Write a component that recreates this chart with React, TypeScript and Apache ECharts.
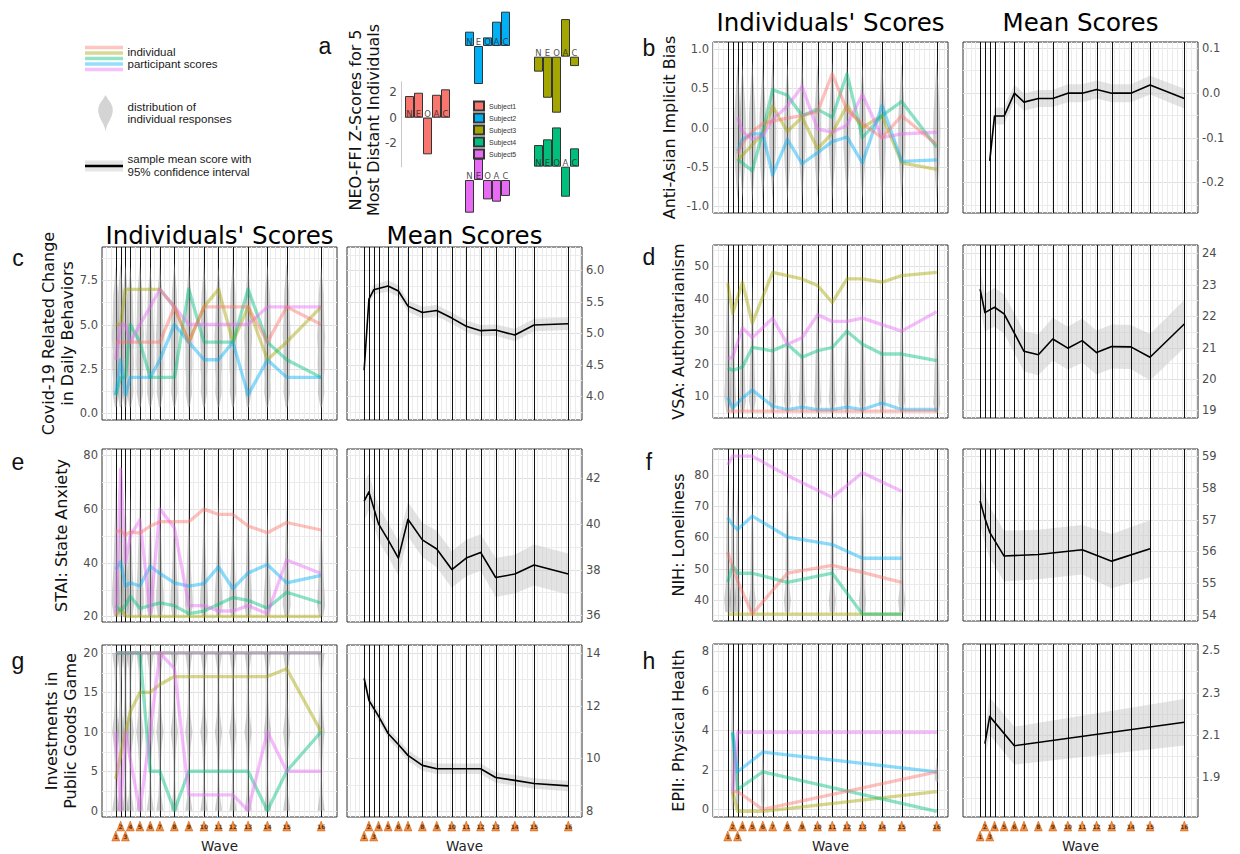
import React, { useEffect, useRef } from "react";
import * as echarts from "echarts";

const UI_FONT = "'DejaVu Sans', Verdana, sans-serif";
const TXT_FONT = "'Liberation Sans', Arial, Helvetica, sans-serif";

// ---------------- waves ----------------
const waveNumbers = [1, 2, 3, 4, 5, 6, 7, 8, 9, 10, 11, 12, 13, 14, 15, 16];
const waveDays = [0, 7, 14, 21, 35, 50, 64, 85, 106, 128, 149, 170, 192, 220, 248, 298];
const waveMarkerRow = [1, 0, 1, 0, 0, 0, 0, 0, 0, 0, 0, 0, 0, 0, 0, 0];

// red, olive, green, blue, pink
const lineColors = ["#F8766D", "#A3A500", "#00BF7D", "#00B0F6", "#E76BF3"];
// drawing order of the individual lines (red ends on top)
const lineDrawOrder = [1, 2, 3, 4, 0];

// ---------------- panel a ----------------
const neoTraits = ["N", "E", "O", "A", "C"];
const neoSubjectNames = ["Subject1", "Subject2", "Subject3", "Subject4", "Subject5"];
const neoSubjectColors = ["#F8766D", "#00B0F6", "#A3A500", "#00BF7D", "#E76BF3"];
const neoSubject1 = [1.71, 1.97, -2.89, 1.81, 2.24];
const neoSubject2 = [1.13, -3.0, 0.68, 1.92, 2.71];
const neoSubject3 = [-1.18, -3.24, -4.42, 2.97, -0.74];
const neoSubject4 = [1.71, 2.16, 3.1, -2.37, 1.45];
const neoSubject5 = [-2.58, 1.68, -1.53, -1.71, -1.26];
const neoTicks = [-2, 0, 2];

// ---------------- panel b : Anti-Asian Implicit Bias ----------------
const biasWaves = [3, 4, 5, 6, 7, 8, 9, 10, 11, 12, 13, 14, 15, 16];
const biasRed = [-0.33, -0.2, -0.05, 0.05, 0.08, 0.12, 0.15, 0.2, 0.68, 0.22, 0.05, -0.13, 0.15, -0.22];
const biasOlive = [-0.42, -0.35, -0.22, -0.08, 0.27, -0.05, 0.13, -0.27, -0.07, 0.28, 0.0, 0.15, -0.45, -0.53];
const biasGreen = [-0.41, -0.45, -0.55, -0.05, 0.48, 0.41, 0.15, 0.23, 0.13, 0.68, -0.13, 0.15, 0.33, -0.25];
const biasBlue = [-0.3, -0.15, -0.08, -0.08, -0.6, -0.15, -0.46, -0.32, -0.18, -0.12, -0.45, 0.28, -0.43, -0.41];
const biasPink = [0.13, -0.05, -0.15, -0.1, 0.1, 0.27, 0.52, -0.02, -0.06, 0.03, 0.42, -0.13, -0.08, -0.06];
const biasMean = [-0.152, -0.052, -0.052, -0.001, -0.021, -0.013, -0.013, -0.001, -0.001, 0.007, -0.001, -0.001, 0.017, -0.013];
const biasCI = [0.02, 0.019, 0.019, 0.019, 0.019, 0.019, 0.019, 0.02, 0.02, 0.02, 0.02, 0.02, 0.021, 0.022];
const biasViolinLo = [-0.93, -0.9, -0.95, -0.92, -0.9, -0.95, -0.92, -0.9, -0.93, -0.9, -0.92, -0.95, -0.9, -0.92];
const biasViolinHi = [0.82, 0.8, 0.85, 0.8, 0.85, 0.82, 0.85, 0.8, 0.85, 0.82, 0.8, 0.85, 0.82, 0.85];

// ---------------- panel c : Covid-19 related change ----------------
const covidWaves = [1, 2, 3, 4, 5, 6, 7, 8, 9, 10, 11, 12, 13, 14, 15, 16];
const covidRed = [4, 4, 4, 4, 4, 4, 4, 6, 4, 6, 6, 6, 6, 4, 6, 5];
const covidOlive = [5, 5, 7, 7, 7, 7, 7, 6, 4, 6, 7, 4, 6, 3, 4, 6];
const covidGreen = [1, 2, 2, 5, 4, 2, 2, 2, 7, 4, 4, 4, 7, 4, 3, 2];
const covidBlue = [1, 3, 1, 2, 2, 2, 3, 5, 4, 3, 3, 4, 1, 3, 2, 2];
const covidPink = [3, 5, 5, 4, 5, 6, 7, 6, 5, 5, 5, 5, 5, 6, 6, 6];
const covidMean = [4.41, 5.54, 5.69, 5.71, 5.75, 5.67, 5.43, 5.33, 5.36, 5.24, 5.11, 5.04, 5.05, 4.97, 5.13, 5.15];
const covidCI = [0.07, 0.08, 0.08, 0.08, 0.09, 0.09, 0.09, 0.09, 0.09, 0.09, 0.09, 0.09, 0.09, 0.1, 0.1, 0.1];
const covidViolinLo = [0.3, 0.3, 0.3, 0.3, 0.3, 0.3, 0.3, 0.3, 0.3, 0.3, 0.3, 0.3, 0.3, 0.3, 0.3, 0.3];
const covidViolinHi = [8.3, 8.5, 8.4, 8.3, 8.5, 8.3, 8.4, 8.5, 8.3, 8.4, 8.3, 8.5, 8.3, 8.4, 8.5, 8.3];

// ---------------- panel d : VSA Authoritarianism ----------------
const vsaWaves = [1, 2, 4, 5, 7, 8, 9, 10, 11, 12, 13, 14, 15, 16];
const vsaRed = [5.5, 5.5, 5.5, 5.5, 5.5, 5.5, 5.5, 5.5, 5.5, 5.5, 5.5, 5.5, 5.5, 5.5];
const vsaOlive = [44.7, 35.5, 45, 32.5, 48, 47, 46, 44, 38.8, 46, 46, 45, 47, 48];
const vsaGreen = [18.7, 18, 19, 25, 24, 26, 22, 24, 25, 30, 26, 23, 23, 21];
const vsaBlue = [9.7, 6.4, 9.5, 12, 7, 6, 6.7, 6, 6, 6.7, 6, 8, 6, 6];
const vsaPink = [21.7, 22, 31, 28, 34, 26, 28, 35, 33, 33, 34, 32, 30, 36];
const vsaMean = [22.86, 22.11, 22.28, 22.07, 20.88, 20.77, 21.27, 20.98, 21.22, 20.84, 21.03, 21.02, 20.69, 21.75];
const vsaCI = [0.6, 0.6, 0.62, 0.62, 0.64, 0.65, 0.68, 0.68, 0.7, 0.7, 0.7, 0.7, 0.74, 0.76];
const vsaViolinLo = [5, 5, 5, 5, 5, 5, 5, 5, 5, 5, 5, 5, 5, 5];
const vsaViolinHi = [54, 44, 42, 45, 42, 42, 40, 42, 42, 44, 40, 40, 42, 35];

// ---------------- panel e : STAI State Anxiety ----------------
const staiWaves = [1, 2, 3, 4, 5, 6, 7, 8, 9, 10, 11, 12, 13, 14, 15, 16];
const staiRed = [51.5, 52, 50.3, 51.5, 51, 53.7, 55.3, 55.3, 55.3, 60, 58, 58, 53.7, 51.2, 55, 52.2];
const staiOlive = [20, 23, 20, 20, 20, 20, 20, 20, 20, 20, 20, 20, 20, 20, 20, 20];
const staiGreen = [24, 22, 24, 27.5, 23, 24, 25, 24, 21, 22, 24.5, 27, 26, 23, 29, 25];
const staiBlue = [37.5, 40.3, 31.3, 32.5, 31.3, 38.7, 36, 32.5, 31.3, 32.2, 38.5, 30.3, 36.2, 39.3, 32.5, 35.3];
const staiPink = [21, 75, 40, 50, 56, 21, 60, 53, 24, 24, 22, 22, 24, 21, 41, 36];
const staiMean = [41.0, 41.4, 40.7, 40.0, 39.3, 38.5, 40.2, 39.3, 38.9, 38.0, 38.5, 38.75, 37.65, 37.8, 38.2, 37.8];
const staiCI = [0.85, 0.8, 0.75, 0.75, 0.75, 0.75, 0.75, 0.75, 0.8, 0.8, 0.8, 0.8, 0.85, 0.85, 0.9, 0.9];
const staiViolinLo = [20, 20, 20, 20, 20, 20, 20, 20, 20, 20, 20, 20, 20, 20, 20, 20];
const staiViolinHi = [70, 76, 68, 66, 68, 64, 66, 66, 62, 64, 66, 62, 64, 60, 62, 60];

// ---------------- panel f : NIH Loneliness ----------------
const nihWaves = [1, 2, 3, 5, 8, 11, 13, 15];
const nihRed = [55.3, 50.4, 46, 35.4, 48.5, 51, 48.8, 45.6];
const nihOlive = [35.4, 35.4, 35.4, 35.4, 35.4, 35.4, 35.4, 35.4];
const nihGreen = [45.6, 51, 48.5, 48.5, 45.6, 48.5, 35.4, 35.4];
const nihBlue = [66.3, 64, 62.5, 66.8, 60.1, 57.7, 53.3, 53.3];
const nihPink = [83.2, 86.1, 86, 86, 79.8, 72.8, 80.7, 74.8];
const nihMean = [57.59, 57.04, 56.6, 55.85, 55.9, 56.05, 55.69, 56.08];
const nihCI = [0.75, 0.78, 0.8, 0.8, 0.78, 0.78, 0.86, 0.9];
const nihViolinLo = [36, 36, 36, 36, 36, 36, 36, 36];
const nihViolinHi = [78, 77, 76, 72, 77, 77, 76, 74];

// ---------------- panel g : Public Goods Game ----------------
const pggWaves = [1, 2, 3, 4, 5, 6, 7, 8, 9, 10, 11, 12, 13, 14, 15, 16];
const pggRed = [20, 20, 20, 20, 20, 20, 20, 20, 20, 20, 20, 20, 20, 20, 20, 20];
const pggOlive = [4, 7, 10, 12.5, 15, 15, 16, 17, 17, 17, 17, 17, 17, 17, 18, 10];
const pggGreen = [20, 20, 20, 20, 20, 5, 5, 0, 5, 5, 5, 5, 5, 0, 5, 10];
const pggBlue = [20, 20, 20, 20, 20, 20, 20, 20, 20, 20, 20, 20, 20, 20, 20, 20];
const pggPink = [10, 0, 10, 6.5, 0, 10, 20, 18, 2, 2, 2, 2, 0, 10, 5, 5];
const pggMean = [13.03, 12.2, 11.9, 11.6, 10.94, 10.52, 10.11, 9.73, 9.6, 9.6, 9.6, 9.6, 9.27, 9.16, 9.04, 8.95];
const pggCI = [0.25, 0.22, 0.2, 0.2, 0.2, 0.2, 0.2, 0.2, 0.2, 0.2, 0.2, 0.2, 0.2, 0.2, 0.2, 0.2];
const pggViolinLo = [0, 0, 0, 0, 0, 0, 0, 0, 0, 0, 0, 0, 0, 0, 0, 0];
const pggViolinHi = [20, 20, 20, 20, 20, 20, 20, 20, 20, 20, 20, 20, 20, 20, 20, 20];

// ---------------- panel h : EPII Physical Health ----------------
const epiiWaves = [2, 3, 6, 16];
const epiiRed = [0.9, 0.9, 0, 1.9];
const epiiOlive = [0.9, -0.1, -0.1, 0.9];
const epiiGreen = [3.9, 1.0, 1.9, -0.1];
const epiiBlue = [3.9, 1.9, 2.9, 1.9];
const epiiPink = [0.9, 3.9, 3.9, 3.9];
const epiiMean = [2.058, 2.187, 2.048, 2.159];
const epiiCI = [0.06, 0.09, 0.09, 0.11];
const epiiViolinLo = [0, 0, 0, 1.4];
const epiiViolinHi = [7.9, 4.1, 3.6, 2.6];

// ---------------- layout ----------------
const IND_LEFT = [102, 713];
const IND_W = 235;
const MEAN_LEFT = [347, 963];
const MEAN_W = 235;
const IND_XRANGE = [[-20, 321], [-21, 314]];
const MEAN_XRANGE = [-25, 318];

const panels: any[] = [
  {
    letter: "b", col: 1, top: 42, height: 171, letterY: 48, titles: true, titleY: 22,
    yTitle: "Anti-Asian Implicit Bias", yTitleX: 669,
    waves: biasWaves, ind: [biasRed, biasOlive, biasGreen, biasBlue, biasPink],
    mean: biasMean, ci: biasCI, vLo: biasViolinLo, vHi: biasViolinHi,
    profile: [0, 0.35, 0.7, 0.95, 1, 0.9, 0.6, 0.3, 0], vWidth: 3.6,
    indRange: [-1.085, 1.085], indTicks: [-1, -0.5, 0, 0.5, 1], indMinor: [-0.75, -0.25, 0.25, 0.75], indDec: 1,
    meanRange: [-0.268, 0.113], meanTicks: [-0.2, -0.1, 0, 0.1], meanMinor: [-0.25, -0.15, -0.05, 0.05], meanDec: 1,
  },
  {
    letter: "c", col: 0, top: 247, height: 173, letterY: 258, titles: true, titleY: 235,
    yTitle: "Covid-19 Related Change\nin Daily Behaviors", yTitleX: 58,
    waves: covidWaves, ind: [covidRed, covidOlive, covidGreen, covidBlue, covidPink],
    mean: covidMean, ci: covidCI, vLo: covidViolinLo, vHi: covidViolinHi,
    profile: [0.2, 0.8, 0.7, 0.9, 0.8, 1, 0.8, 0.7, 0.6, 0.3, 0], vWidth: 4,
    indRange: [-0.42, 9.4], indTicks: [0, 2.5, 5, 7.5], indMinor: [1.25, 3.75, 6.25, 8.75], indDec: 1,
    meanRange: [3.62, 6.37], meanTicks: [4, 4.5, 5, 5.5, 6], meanMinor: [3.75, 4.25, 4.75, 5.25, 5.75, 6.25], meanDec: 1,
  },
  {
    letter: "d", col: 1, top: 245, height: 173, letterY: 257,
    yTitle: "VSA: Authoritarianism", yTitleX: 678,
    waves: vsaWaves, ind: [vsaRed, vsaOlive, vsaGreen, vsaBlue, vsaPink],
    mean: vsaMean, ci: vsaCI, vLo: vsaViolinLo, vHi: vsaViolinHi,
    profile: [0.4, 1, 0.8, 0.7, 0.6, 0.5, 0.4, 0.3, 0.2, 0.1, 0], vWidth: 3.5,
    indRange: [3.4, 56.4], indTicks: [10, 20, 30, 40, 50], indMinor: [5, 15, 25, 35, 45, 55], indDec: 0,
    meanRange: [18.76, 24.26], meanTicks: [19, 20, 21, 22, 23, 24], meanMinor: [19.5, 20.5, 21.5, 22.5, 23.5], meanDec: 0,
  },
  {
    letter: "e", col: 0, top: 449, height: 173, letterY: 462,
    yTitle: "STAI: State Anxiety", yTitleX: 61,
    waves: staiWaves, ind: [staiRed, staiOlive, staiGreen, staiBlue, staiPink],
    mean: staiMean, ci: staiCI, vLo: staiViolinLo, vHi: staiViolinHi,
    profile: [0.5, 1, 0.9, 0.7, 0.55, 0.45, 0.35, 0.25, 0.15, 0.08, 0], vWidth: 4,
    indRange: [17.9, 82.4], indTicks: [20, 40, 60, 80], indMinor: [30, 50, 70], indDec: 0,
    meanRange: [35.7, 43.28], meanTicks: [36, 38, 40, 42], meanMinor: [37, 39, 41, 43], meanDec: 0,
  },
  {
    letter: "f", col: 1, top: 449, height: 172, letterY: 462,
    yTitle: "NIH: Loneliness", yTitleX: 678,
    waves: nihWaves, ind: [nihRed, nihOlive, nihGreen, nihBlue, nihPink],
    mean: nihMean, ci: nihCI, vLo: nihViolinLo, vHi: nihViolinHi,
    profile: [0.7, 1, 0.6, 0.5, 0.5, 0.45, 0.4, 0.35, 0.25, 0.1, 0], vWidth: 3.5,
    indRange: [33.2, 88.3], indTicks: [40, 50, 60, 70, 80], indMinor: [35, 45, 55, 65, 75, 85], indDec: 0,
    meanRange: [53.8, 59.23], meanTicks: [54, 55, 56, 57, 58, 59], meanMinor: [54.5, 55.5, 56.5, 57.5, 58.5], meanDec: 0,
  },
  {
    letter: "g", col: 0, top: 645, height: 172, letterY: 661, markers: true,
    yTitle: "Investments in\nPublic Goods Game", yTitleX: 61,
    waves: pggWaves, ind: [pggRed, pggOlive, pggGreen, pggBlue, pggPink],
    mean: pggMean, ci: pggCI, vLo: pggViolinLo, vHi: pggViolinHi,
    profile: [1, 0.4, 0.25, 0.3, 0.5, 1, 0.5, 0.3, 0.25, 0.4, 1], vWidth: 3.6,
    indRange: [-0.8, 21], indTicks: [0, 5, 10, 15, 20], indMinor: [2.5, 7.5, 12.5, 17.5], indDec: 0,
    meanRange: [7.77, 14.3], meanTicks: [8, 10, 12, 14], meanMinor: [9, 11, 13], meanDec: 0,
  },
  {
    letter: "h", col: 1, top: 644, height: 173, letterY: 661, markers: true,
    yTitle: "EPII: Physical Health", yTitleX: 678,
    waves: epiiWaves, ind: [epiiRed, epiiOlive, epiiGreen, epiiBlue, epiiPink],
    mean: epiiMean, ci: epiiCI, vLo: epiiViolinLo, vHi: epiiViolinHi,
    profile: [0.3, 0.6, 0.6, 0.5, 0.45, 0.3, 0.2, 0.1, 0.05], vWidth: 3,
    indRange: [-0.39, 8.37], indTicks: [0, 2, 4, 6, 8], indMinor: [1, 3, 5, 7], indDec: 0,
    meanRange: [1.71, 2.53], meanTicks: [1.9, 2.1, 2.3, 2.5], meanMinor: [1.8, 2.0, 2.2, 2.4], meanDec: 1,
  },
];

const NEO_UNIT = 12.67;
const neoLayout = [
  { left: 405, base: 117.7, ymin: -3.87, ymax: 2.84, axis: true },
  { left: 465, base: 46, ymin: -3.05, ymax: 2.75, axis: false },
  { left: 534, base: 56.7, ymin: -4.45, ymax: 3.0, axis: false },
  { left: 534, base: 166.7, ymin: -2.4, ymax: 3.15, axis: false },
  { left: 465, base: 180, ymin: -2.62, ymax: 1.7, axis: false },
];

function txt(x: number, y: number, text: string, o: any = {}) {
  const style: any = {
    text,
    fill: o.fill || "#111",
    fontSize: o.fontSize || 16,
    fontFamily: o.fontFamily || UI_FONT,
    align: o.align || "center",
    verticalAlign: o.valign || "middle",
    textAlign: o.align || "center",
    textVerticalAlign: o.valign || "middle",
  };
  if (o.lineHeight) style.lineHeight = o.lineHeight;
  return { type: "text", x, y, rotation: o.rotation || 0, silent: true, z: 10, style };
}

function buildOption() {
  const grid: any[] = [];
  const xAxis: any[] = [];
  const yAxis: any[] = [];
  const series: any[] = [];
  const graphic: any[] = [];

  const addGrid = (g: any, x: any, y: any) => {
    const i = grid.length;
    grid.push(g);
    xAxis.push({ ...x, gridIndex: i });
    yAxis.push({ ...y, gridIndex: i });
    return i;
  };

  const weekLines: number[] = [];
  for (let d = -21; d <= 322; d += 7) weekLines.push(d);

  const yAxisOpt = (range: number[], ticks: number[], dec: number, position: string) => ({
    type: "value",
    min: range[0],
    max: range[1],
    position,
    axisLine: { show: false },
    axisTick: { show: false },
    splitLine: { show: false },
    axisLabel: {
      show: true,
      customValues: ticks,
      formatter: (v: number) => Number(v).toFixed(dec),
      fontSize: 11.5,
      color: "#4d4d4d",
      fontFamily: UI_FONT,
      margin: 4,
    },
  });

  const gridLinesSeries = (gi: number, xr: number[], yr: number[], major: number[], minor: number[]) => ({
    type: "custom",
    xAxisIndex: gi,
    yAxisIndex: gi,
    silent: true,
    clip: true,
    z: 1,
    data: [
      ...major.map((v) => [0, v]),
      ...minor.map((v) => [1, v]),
      ...weekLines.map((v) => [2, v]),
    ],
    renderItem: (params: any, api: any) => {
      const cs = params.coordSys;
      const k = api.value(0);
      const v = api.value(1);
      if (k === 2) {
        const x = Math.round(api.coord([v, yr[0]])[0]) + 0.5;
        return { type: "line", shape: { x1: x, y1: cs.y, x2: x, y2: cs.y + cs.height }, style: { stroke: "#ebebeb", lineWidth: 1 } };
      }
      const y = Math.round(api.coord([xr[0], v])[1]) + 0.5;
      return {
        type: "line",
        shape: { x1: cs.x, y1: y, x2: cs.x + cs.width, y2: y },
        style: { stroke: k === 0 ? "#e0e0e0" : "#ebebeb", lineWidth: 1 },
      };
    },
  });

  const waveLinesSeries = (gi: number, yr: number[]) => ({
    type: "custom",
    xAxisIndex: gi,
    yAxisIndex: gi,
    silent: true,
    clip: true,
    z: 3,
    data: waveDays.map((d) => [d, yr[0]]),
    renderItem: (params: any, api: any) => {
      const cs = params.coordSys;
      const x = Math.round(api.coord([api.value(0), api.value(1)])[0]) + 0.5;
      return { type: "line", shape: { x1: x, y1: cs.y, x2: x, y2: cs.y + cs.height }, style: { stroke: "#111", lineWidth: 1 } };
    },
  });

  const violinSeries = (gi: number, p: any) => ({
    type: "custom",
    xAxisIndex: gi,
    yAxisIndex: gi,
    silent: true,
    clip: true,
    z: 4,
    encode: { x: 0, y: [1, 2] },
    data: p.waves.map((w: number, k: number) => [waveDays[w - 1], p.vLo[k], p.vHi[k]]),
    renderItem: (params: any, api: any) => {
      const d = api.value(0);
      const lo = api.value(1);
      const hi = api.value(2);
      const prof = p.profile;
      const n = prof.length;
      const R: number[][] = [];
      const L: number[][] = [];
      for (let i = 0; i < n; i++) {
        const t = i / (n - 1);
        const c = api.coord([d, lo + (hi - lo) * t]);
        const w = p.vWidth * prof[i];
        R.push([c[0] + w, c[1]]);
        L.push([c[0] - w, c[1]]);
      }
      return { type: "polygon", shape: { points: R.concat(L.reverse()) }, style: { fill: "rgba(160,160,160,0.5)" } };
    },
  });

  const bandSeries = (gi: number, p: any) => {
    const rows = p.waves.map((w: number, k: number) => [waveDays[w - 1], p.mean[k] - p.ci[k], p.mean[k] + p.ci[k]]);
    return {
      type: "custom",
      xAxisIndex: gi,
      yAxisIndex: gi,
      silent: true,
      clip: true,
      z: 2,
      encode: { x: 0, y: [1, 2] },
      data: rows,
      renderItem: (params: any, api: any) => {
        if (params.dataIndexInside !== 0) return { type: "group", children: [] };
        const up: number[][] = [];
        const dn: number[][] = [];
        for (let i = 0; i < rows.length; i++) {
          const x = api.value(0, i);
          up.push(api.coord([x, api.value(2, i)]));
          dn.push(api.coord([x, api.value(1, i)]));
        }
        return { type: "polygon", shape: { points: up.concat(dn.reverse()) }, style: { fill: "rgba(200,200,200,0.5)" } };
      },
    };
  };

  const markerGrid = (left: number, width: number, xr: number[]) => {
    const gi = addGrid(
      { left, top: 818, width, height: 26, show: false },
      { type: "value", min: xr[0], max: xr[1], show: false },
      { type: "value", min: 0, max: 26, inverse: true, show: false }
    );
    series.push({
      type: "scatter",
      xAxisIndex: gi,
      yAxisIndex: gi,
      silent: true,
      symbol: "triangle",
      symbolSize: [8, 10],
      itemStyle: { color: "#F5700F", borderColor: "#B44A00", borderWidth: 0.5 },
      label: {
        show: true,
        formatter: (pp: any) => String(waveNumbers[pp.dataIndex]),
        position: "inside",
        offset: [0, 2.5],
        fontSize: 6,
        fontWeight: "bold",
        color: "#3a1a00",
        fontFamily: UI_FONT,
      },
      labelLayout: { hideOverlap: false },
      data: waveDays.map((d, i) => [d, waveMarkerRow[i] ? 18 : 8]),
      z: 5,
    });
    graphic.push(txt(left + width / 2, 845.5, "Wave", { fontSize: 13.5, fill: "#222" }));
  };

  // ---------- panel a: bars ----------
  const neoData = [neoSubject1, neoSubject2, neoSubject3, neoSubject4, neoSubject5];
  neoLayout.forEach((L, s) => {
    const gi = addGrid(
      { left: L.left, top: L.base - L.ymax * NEO_UNIT, width: 45, height: (L.ymax - L.ymin) * NEO_UNIT, show: false },
      {
        type: "category",
        data: neoTraits,
        show: L.axis,
        axisLine: { show: L.axis, onZero: true, lineStyle: { color: "#c9c9c9", width: 1 } },
        axisTick: { show: false },
        axisLabel: { show: false },
        splitLine: { show: false },
      },
      {
        type: "value",
        min: L.ymin,
        max: L.ymax,
        show: L.axis,
        offset: 4,
        axisLine: { show: L.axis, lineStyle: { color: "#c9c9c9" } },
        axisTick: { show: false },
        splitLine: { show: false },
        axisLabel: {
          show: L.axis,
          customValues: neoTicks,
          formatter: (v: number) => String(v),
          fontSize: 12,
          color: "#4d4d4d",
          fontFamily: UI_FONT,
          margin: 4,
        },
      }
    );
    series.push({
      type: "bar",
      name: neoSubjectNames[s],
      xAxisIndex: gi,
      yAxisIndex: gi,
      data: neoData[s],
      barCategoryGap: "0%",
      itemStyle: { color: neoSubjectColors[s], borderColor: "#333", borderWidth: 1 },
      silent: true,
      z: 3,
    });
    series.push({
      type: "scatter",
      name: "traits" + s,
      xAxisIndex: gi,
      yAxisIndex: gi,
      data: neoTraits.map((t) => [t, 0]),
      symbolSize: 1,
      itemStyle: { color: "rgba(0,0,0,0)" },
      label: {
        show: true,
        formatter: (pp: any) => neoTraits[pp.dataIndex],
        position: "inside",
        offset: [0, -4],
        fontSize: 8.5,
        color: "#222",
        fontFamily: UI_FONT,
      },
      silent: true,
      z: 6,
    });
  });
  graphic.push(txt(364, 120, "NEO-FFI Z-Scores for 5\nMost Distant Individuals", { rotation: Math.PI / 2, fontSize: 16, lineHeight: 18 }));
  graphic.push(txt(325, 46, "a", { fontSize: 23, fontFamily: TXT_FONT }));

  // ---------- main panels ----------
  panels.forEach((p) => {
    const col = p.col;
    const indX = IND_XRANGE[col];
    const gInd = addGrid(
      { left: IND_LEFT[col], top: p.top, width: IND_W, height: p.height, show: true, borderColor: "#333", borderWidth: 1, backgroundColor: "transparent" },
      { type: "value", min: indX[0], max: indX[1], show: false },
      yAxisOpt(p.indRange, p.indTicks, p.indDec, "left")
    );
    const gMean = addGrid(
      { left: MEAN_LEFT[col], top: p.top, width: MEAN_W, height: p.height, show: true, borderColor: "#333", borderWidth: 1, backgroundColor: "transparent" },
      { type: "value", min: MEAN_XRANGE[0], max: MEAN_XRANGE[1], show: false },
      yAxisOpt(p.meanRange, p.meanTicks, p.meanDec, "right")
    );

    series.push(gridLinesSeries(gInd, indX, p.indRange, p.indTicks, p.indMinor));
    series.push(waveLinesSeries(gInd, p.indRange));
    series.push(violinSeries(gInd, p));
    lineDrawOrder.forEach((c, order) => {
      const vals = p.ind[c];
      series.push({
        type: "line",
        xAxisIndex: gInd,
        yAxisIndex: gInd,
        data: p.waves.map((w: number, k: number) => [waveDays[w - 1], vals[k]]),
        symbol: "none",
        showSymbol: false,
        lineStyle: { color: lineColors[c], width: 3.3, opacity: 0.45, join: "round" },
        silent: true,
        clip: true,
        z: 6 + order * 0.01,
      });
    });

    series.push(gridLinesSeries(gMean, MEAN_XRANGE, p.meanRange, p.meanTicks, p.meanMinor));
    series.push(bandSeries(gMean, p));
    series.push(waveLinesSeries(gMean, p.meanRange));
    series.push({
      type: "line",
      xAxisIndex: gMean,
      yAxisIndex: gMean,
      data: p.waves.map((w: number, k: number) => [waveDays[w - 1], p.mean[k]]),
      symbol: "none",
      showSymbol: false,
      lineStyle: { color: "#000", width: 1.6, join: "round" },
      silent: true,
      clip: true,
      z: 7,
    });

    if (p.markers) {
      markerGrid(IND_LEFT[col], IND_W, indX);
      markerGrid(MEAN_LEFT[col], MEAN_W, MEAN_XRANGE);
    }

    const letterX = col === 0 ? 18 : 649;
    graphic.push(txt(letterX, p.letterY, p.letter, { fontSize: 23, fontFamily: TXT_FONT }));
    const multi = p.yTitle.indexOf("\n") >= 0;
    graphic.push(
      txt(p.yTitleX, p.top + p.height / 2, p.yTitle, { rotation: Math.PI / 2, fontSize: 16, lineHeight: multi ? 18.5 : undefined })
    );
    if (p.titles) {
      graphic.push(txt(IND_LEFT[col] + IND_W / 2, p.titleY, "Individuals' Scores", { fontSize: 24.5, fill: "#000" }));
      graphic.push(txt(MEAN_LEFT[col] + MEAN_W / 2, p.titleY, "Mean Scores", { fontSize: 24.5, fill: "#000" }));
    }
  });

  // ---------- top-left explanatory legend ----------
  const swatchY = [47.5, 53, 58.5, 64, 69.5];
  lineColors.forEach((c, i) => {
    graphic.push({ type: "line", silent: true, shape: { x1: 85, y1: swatchY[i], x2: 123, y2: swatchY[i] }, style: { stroke: c, opacity: 0.42, lineWidth: 3.6 } });
  });
  const legendText = { fontSize: 11.5, fontFamily: TXT_FONT, align: "left", fill: "#1a1a1a", lineHeight: 12 };
  graphic.push(txt(127.5, 58.2, "individual\nparticipant scores", legendText));

  const iconProf = [0, 0.3, 0.65, 0.9, 1, 0.95, 0.8, 0.55, 0.3, 0.1, 0];
  const iR: number[][] = [];
  const iL: number[][] = [];
  iconProf.forEach((w, i) => {
    const y = 95 + (36.7 * i) / (iconProf.length - 1);
    iR.push([105.5 + 7.3 * w, y]);
    iL.push([105.5 - 7.3 * w, y]);
  });
  graphic.push({ type: "polygon", silent: true, shape: { points: iR.concat(iL.reverse()), smooth: 0.3 }, style: { fill: "#d4d4d4" } });
  graphic.push(txt(127.5, 113.2, "distribution of\nindividual responses", legendText));

  graphic.push({ type: "rect", silent: true, shape: { x: 85, y: 160.5, width: 38, height: 11 }, style: { fill: "#e6e6e6" } });
  graphic.push({ type: "line", silent: true, shape: { x1: 85, y1: 166, x2: 123, y2: 166 }, style: { stroke: "#000", lineWidth: 2.6 } });
  graphic.push(txt(127.5, 165.4, "sample mean score with\n95% confidence interval", { ...legendText, lineHeight: 13.5 }));

  return {
    animation: false,
    backgroundColor: "#ffffff",
    tooltip: { show: false },
    legend: {
      data: neoSubjectNames,
      orient: "vertical",
      left: 473,
      top: 100.5,
      itemWidth: 10,
      itemHeight: 9,
      itemGap: 1,
      padding: 0,
      icon: "rect",
      selectedMode: false,
      textStyle: { fontSize: 7, color: "#333", fontFamily: TXT_FONT },
    },
    grid,
    xAxis,
    yAxis,
    series,
    graphic,
  };
}

export default function App() {
  const ref = useRef<HTMLDivElement>(null);
  useEffect(() => {
    document.body.style.margin = "0";
    const chart = echarts.init(ref.current as HTMLDivElement, null, { renderer: "svg" });
    chart.setOption(buildOption() as any);
    return () => chart.dispose();
  }, []);
  return <div ref={ref} style={{ position: "absolute", left: 0, top: 0, width: 1240, height: 854 }} />;
}
